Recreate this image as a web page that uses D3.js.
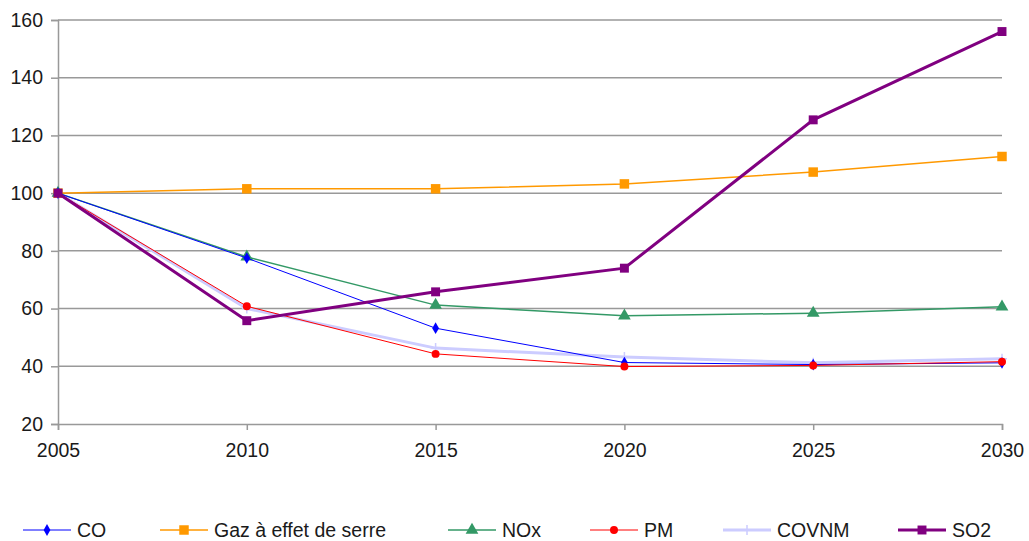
<!DOCTYPE html>
<html>
<head>
<meta charset="utf-8">
<script src="https://cdn.jsdelivr.net/npm/d3@7"></script>
<style>
  body { margin: 0; background: #fff; }
  svg text { font-family: "Liberation Sans", Arial, sans-serif; fill: #1a1a1a; }
</style>
</head>
<body>
<svg id="chart" width="1029" height="541"></svg>
<script>
// data (index, 2005 = 100)
var years = [2005, 2010, 2015, 2020, 2025, 2030];
var co     = [100, 77.5, 53.2, 41.3, 40.6, 41.2];
var gaz    = [100, 101.5, 101.5, 103.2, 107.3, 112.7];
var nox    = [100, 77.9, 61.2, 57.5, 58.4, 60.6];
var pm     = [100, 60.8, 44.3, 39.9, 40.3, 41.6];
var covnm  = [100, 60.0, 46.3, 43.2, 41.2, 42.6];
var so2    = [100, 55.8, 65.8, 74.0, 125.4, 156.0];
var yTicks = [20, 40, 60, 80, 100, 120, 140, 160];

var series = [
    {name: 'CO', values: co, color: '#0000ff', width: 1, marker: 'diamond', size: 40},
    {name: 'Gaz à effet de serre', values: gaz, color: '#ff9900', width: 1.5, marker: 'square', size: 90},
    {name: 'NOx', values: nox, color: '#339966', width: 1.5, marker: 'triangle', size: 70},
    {name: 'PM', values: pm, color: '#ff0000', width: 1, marker: 'circle', size: 50},
    {name: 'COVNM', values: covnm, color: '#ccccff', width: 3, marker: 'cross', size: 0},
    {name: 'SO2', values: so2, color: '#800080', width: 3, marker: 'square', size: 80}
];

var svg = d3.select('#chart');
var x = d3.scaleLinear().domain([2005, 2030]).range([58, 1002]);
var y = d3.scaleLinear().domain([20, 160]).range([424, 20]);

// gridlines
svg.append('g')
    .selectAll('line')
    .data(yTicks.slice(1))
    .enter().append('line')
    .attr('x1', x(2005)).attr('x2', x(2030))
    .attr('y1', function(d) { return y(d); })
    .attr('y2', function(d) { return y(d); })
    .attr('stroke', '#999').attr('stroke-width', 1.5);

// axes
var yAxis = svg.append('g')
    .attr('transform', 'translate(' + x(2005) + ',0)')
    .call(d3.axisLeft(y).tickValues(yTicks).tickSize(7).tickPadding(8));
var xAxis = svg.append('g')
    .attr('transform', 'translate(0,' + y(20) + ')')
    .call(d3.axisBottom(x).tickValues(years).tickFormat(d3.format('d')).tickSize(6).tickPadding(13));
[yAxis, xAxis].forEach(function(ax) {
    ax.select('.domain').attr('stroke', '#999').attr('stroke-width', 1.5);
    ax.selectAll('.tick line').attr('stroke', '#999').attr('stroke-width', 1.5);
    ax.selectAll('.tick text').style('font-size', '19.5px').attr('fill', '#1a1a1a');
});

var line = d3.line()
    .x(function(d, i) { return x(years[i]); })
    .y(function(d) { return y(d); });

function symbolFor(s) {
    var types = {diamond: d3.symbolDiamond, square: d3.symbolSquare, triangle: d3.symbolTriangle, circle: d3.symbolCircle};
    return d3.symbol().type(types[s.marker]).size(s.size)();
}

function drawMarker(g, s, cx, cy) {
    if (s.marker == 'cross') {
        g.append('path')
            .attr('d', 'M' + (cx - 5) + ',' + cy + 'H' + (cx + 5) + 'M' + cx + ',' + (cy - 5) + 'V' + (cy + 5))
            .attr('stroke', s.color).attr('stroke-width', 1.5).attr('fill', 'none');
    } else {
        g.append('path')
            .attr('d', symbolFor(s))
            .attr('transform', 'translate(' + cx + ',' + cy + ')')
            .attr('fill', s.color);
    }
}

// draw order: light ones first, SO2 on top
var order = [4, 1, 2, 0, 3, 5];
order.forEach(function(k) {
    var s = series[k];
    var g = svg.append('g');
    g.append('path')
        .datum(s.values)
        .attr('d', line)
        .attr('fill', 'none')
        .attr('stroke', s.color)
        .attr('stroke-width', s.width);
    s.values.forEach(function(v, i) {
        drawMarker(g, s, x(years[i]), y(v));
    });
});

// legend
var legendX = [23, 160, 448, 590, 723, 898];
var legend = svg.append('g');
series.forEach(function(s, i) {
    var lg = legend.append('g').attr('transform', 'translate(' + legendX[i] + ',530)');
    lg.append('line')
        .attr('x1', 0).attr('x2', 48).attr('y1', 0).attr('y2', 0)
        .attr('stroke', s.color).attr('stroke-width', s.width);
    drawMarker(lg, s, 24, 0);
    lg.append('text')
        .attr('x', 54).attr('y', 7)
        .style('font-size', '19.5px')
        .text(s.name);
});
</script>
</body>
</html>
